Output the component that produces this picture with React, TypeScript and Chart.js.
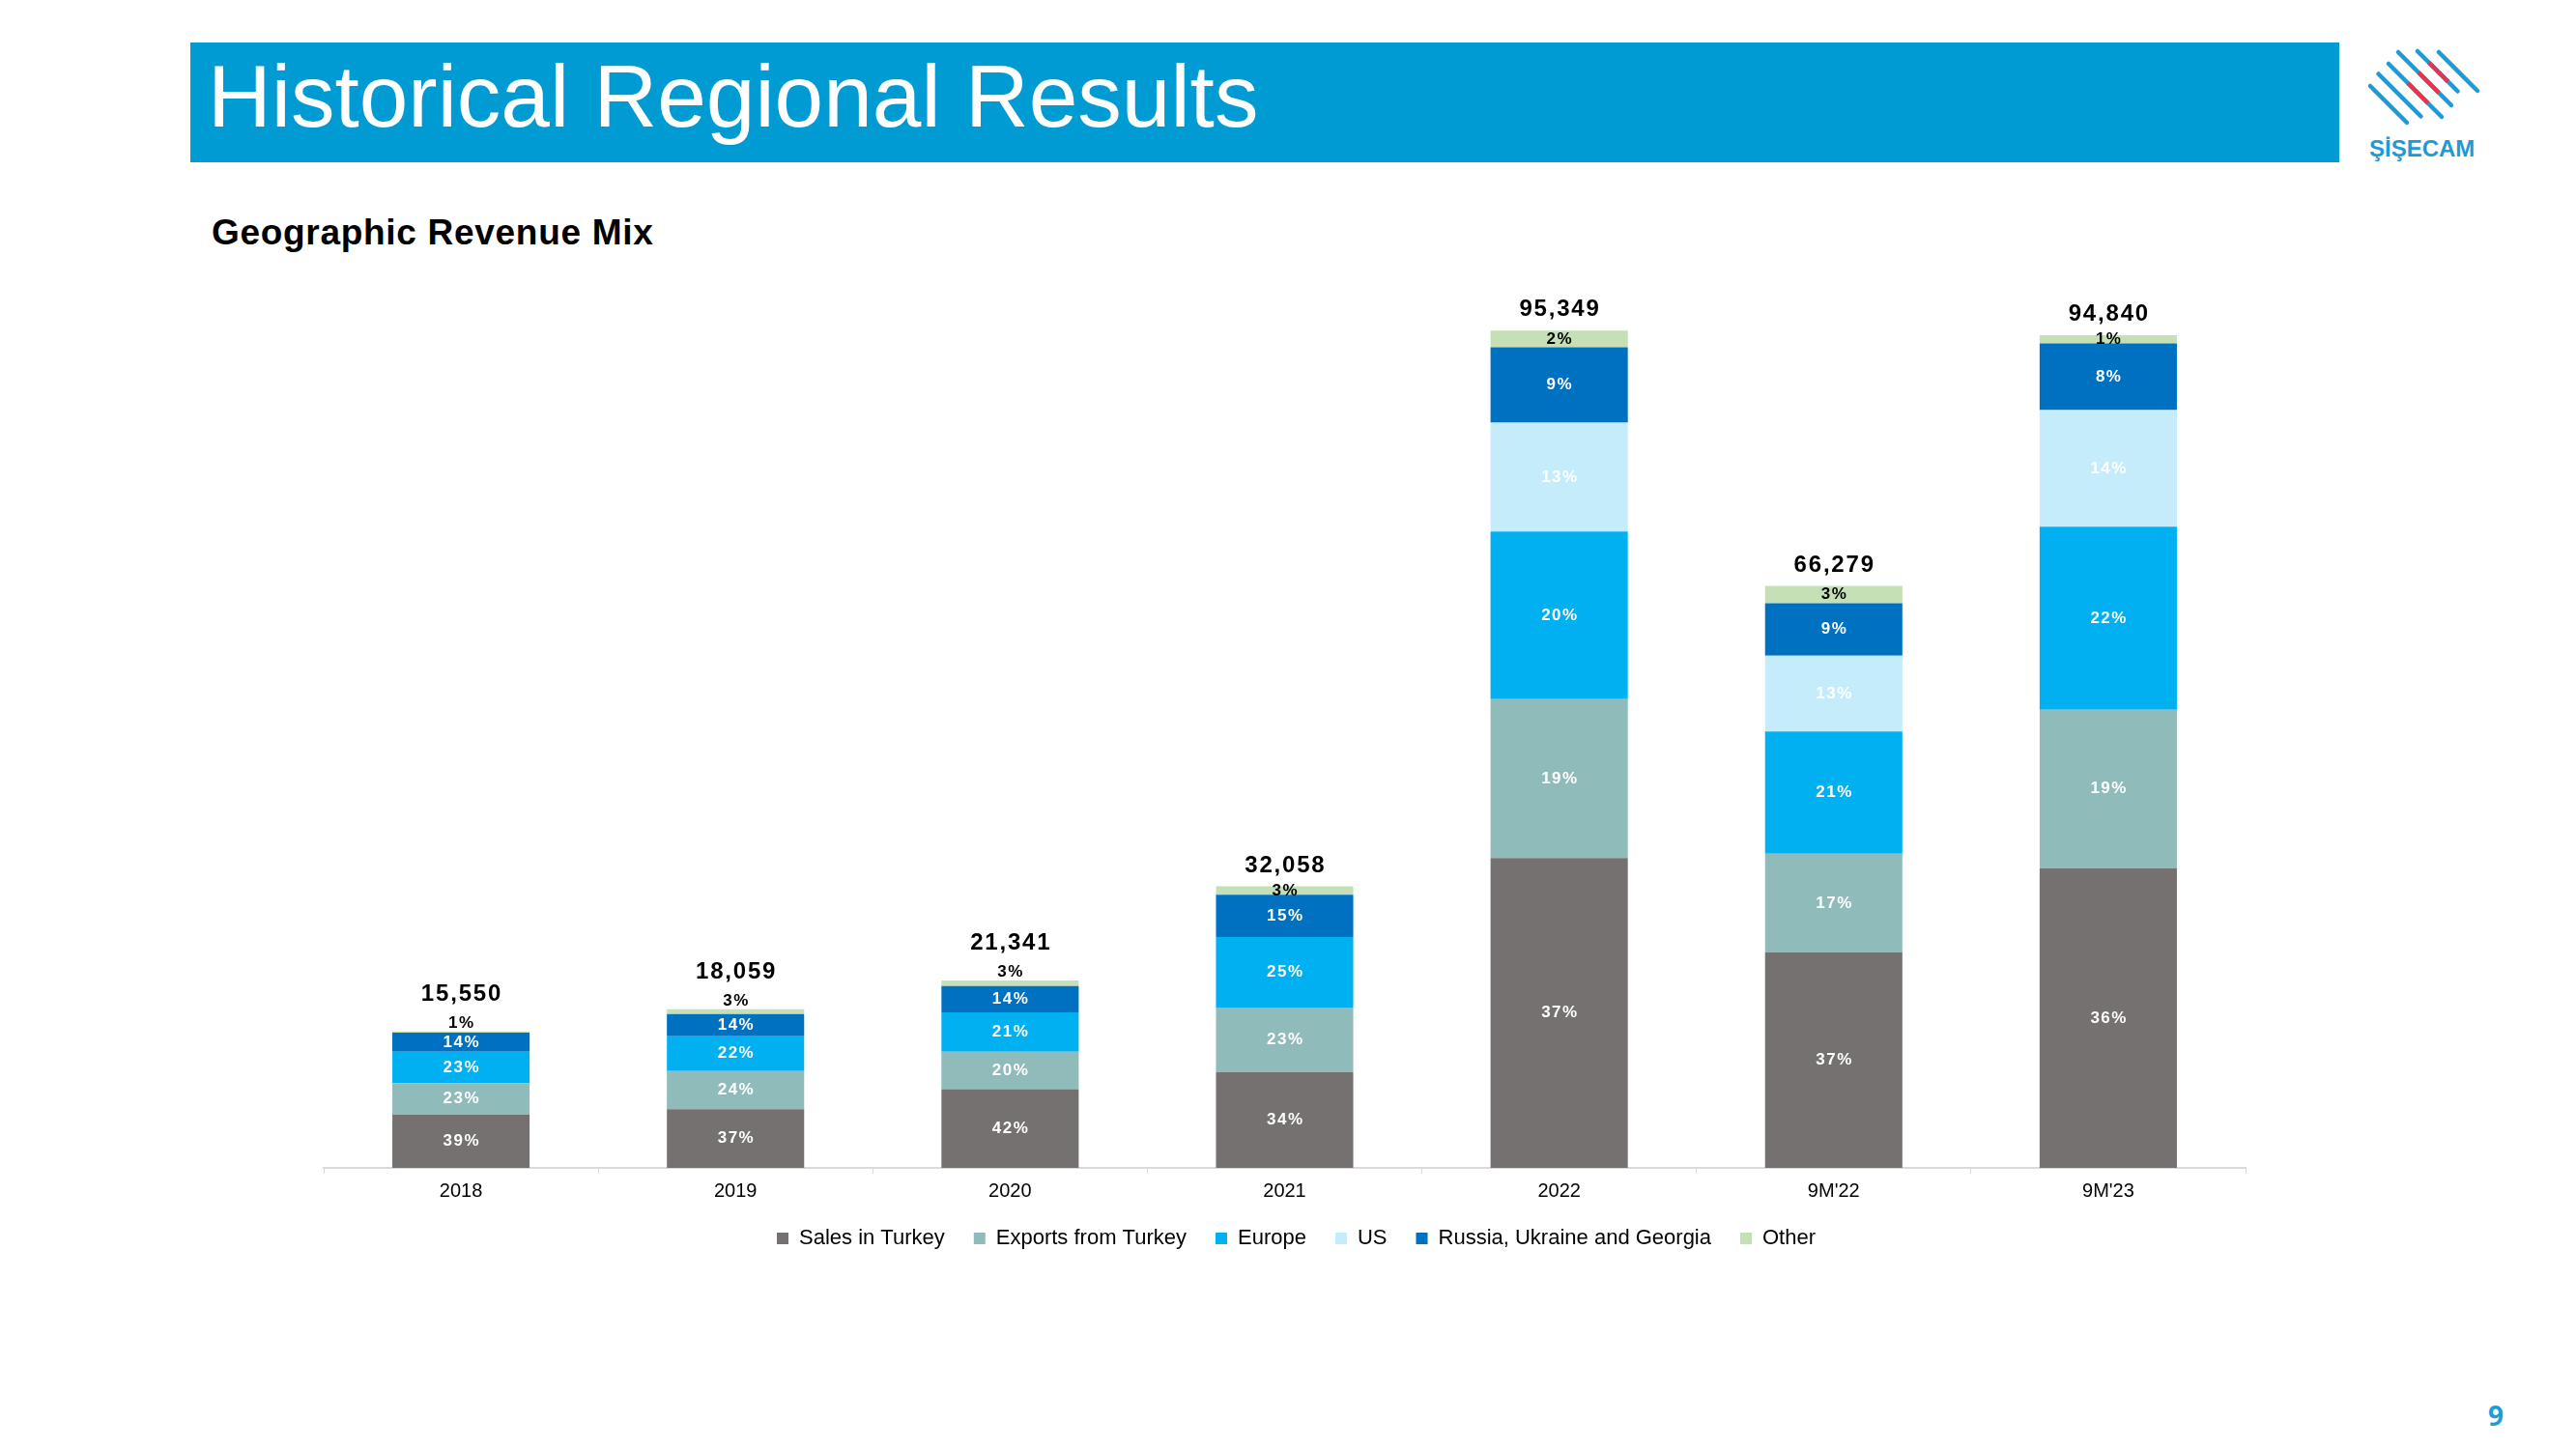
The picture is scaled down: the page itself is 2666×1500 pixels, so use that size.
import React, { useEffect, useRef } from "react";
import { Chart, registerables } from "chart.js";

Chart.register(...registerables);

const FONT = '"Liberation Sans", Arial, sans-serif';

const categories = ["2018", "2019", "2020", "2021", "2022", "9M'22", "9M'23"];
const totals = [15550, 18059, 21341, 32058, 95349, 66279, 94840];
const seriesNames = [
  "Sales in Turkey",
  "Exports from Turkey",
  "Europe",
  "US",
  "Russia, Ukraine and Georgia",
  "Other",
];
const salesTurkeyPct = [39, 37, 42, 34, 37, 37, 36];
const exportsTurkeyPct = [23, 24, 20, 23, 19, 17, 19];
const europePct = [23, 22, 21, 25, 20, 21, 22];
const usPct = [0, 0, 0, 0, 13, 13, 14];
const russiaPct = [14, 14, 14, 15, 9, 9, 8];
const otherPct = [1, 3, 3, 3, 2, 3, 1];
const seriesColors = ["#767171", "#8FBCBB", "#00B0F0", "#C5ECFB", "#0070C0", "#C5E0B4"];

const pctSeries = [salesTurkeyPct, exportsTurkeyPct, europePct, usPct, russiaPct, otherPct];

const shiftLegendPlugin = {
  id: "shiftLegend",
  afterLayout(chart: any) {
    const lg = chart.legend;
    if (lg) {
      lg.left += 12;
      lg.right += 12;
      lg.top -= 10;
      lg.bottom -= 10;
    }
  },
};

const labelPlugin = {
  id: "segmentLabels",
  afterDatasetsDraw(chart: any) {
    const ctx = chart.ctx;
    ctx.save();
    ctx.textAlign = "center";
    for (let j = 0; j < categories.length; j++) {
      for (let i = 0; i < 5; i++) {
        const pct = pctSeries[i][j];
        if (!pct) continue;
        const el = chart.getDatasetMeta(i).data[j];
        ctx.font = `bold 17px ${FONT}`;
        ctx.letterSpacing = "1.5px";
        ctx.fillStyle = "#FFFFFF";
        ctx.textBaseline = "middle";
        ctx.fillText(pct + "%", el.x + 0.75, (el.y + el.base) / 2);
      }
      const oel = chart.getDatasetMeta(5).data[j];
      const h = oel.base - oel.y;
      ctx.font = `bold 17px ${FONT}`;
      ctx.letterSpacing = "1.5px";
      ctx.fillStyle = "#000000";
      let otherTop = oel.y;
      if (h < 7) {
        ctx.textBaseline = "alphabetic";
        const b = oel.y - 4;
        ctx.fillText(otherPct[j] + "%", oel.x + 0.75, b);
        otherTop = b - 13;
      } else {
        ctx.textBaseline = "middle";
        ctx.fillText(otherPct[j] + "%", oel.x + 0.75, (oel.y + oel.base) / 2);
      }
      ctx.font = `bold 24px ${FONT}`;
      ctx.letterSpacing = "1.8px";
      ctx.textBaseline = "alphabetic";
      const tb = Math.min(oel.y, otherTop) - 15;
      ctx.fillText(totals[j].toLocaleString("en-US"), oel.x + 0.9, tb);
    }
    ctx.restore();
  },
};

function Logo() {
  const blue = "#1E9AD6";
  const red = "#E5344B";
  const lines: [number, number, number][] = [
    [-16, 82, 158],
    [5, 78, 166],
    [26, 78, 188],
    [48, 76, 186],
    [69, 95, 178],
    [90, 118, 198],
  ];
  const reds: [number, number, number][] = [
    [26, 118, 160],
    [48, 118, 160],
    [69, 118, 158],
  ];
  const pt = (u: number, s: number) => [(s + u) / 2, (s - u) / 2];
  return (
    <div style={{ position: "absolute", left: 2420, top: 40, width: 180, height: 140 }}>
      <svg width={180} height={140} style={{ position: "absolute", left: 0, top: 0 }}>
        {lines.map(([u, s1, s2], k) => {
          const [x1, y1] = pt(u, s1);
          const [x2, y2] = pt(u, s2);
          return (
            <line key={"b" + k} x1={x1} y1={y1} x2={x2} y2={y2} stroke={blue} strokeWidth={4.5} strokeLinecap="round" />
          );
        })}
        {reds.map(([u, s1, s2], k) => {
          const [x1, y1] = pt(u, s1);
          const [x2, y2] = pt(u, s2);
          return <line key={"r" + k} x1={x1} y1={y1} x2={x2} y2={y2} stroke={red} strokeWidth={4.5} />;
        })}
      </svg>
      <div
        style={{
          position: "absolute",
          left: 32,
          top: 99,
          font: 'bold 24px "Liberation Sans", Arial, sans-serif',
          color: blue,
          lineHeight: "30px",
          whiteSpace: "nowrap",
        }}
      >
        ŞİŞECAM
      </div>
    </div>
  );
}

export default function App() {
  const ref = useRef<HTMLCanvasElement>(null);
  useEffect(() => {
    const chart = new Chart(ref.current as HTMLCanvasElement, {
      type: "bar",
      data: {
        labels: categories,
        datasets: pctSeries.map((p, i) => ({
          label: seriesNames[i],
          data: p.map((v, j) => (totals[j] * v) / 100),
          backgroundColor: seriesColors[i],
          borderWidth: 0,
          barPercentage: 0.5,
          categoryPercentage: 1,
        })),
      },
      options: {
        animation: false,
        responsive: false,
        maintainAspectRatio: false,
        layout: { padding: { left: 35, right: 76, top: 40, bottom: 0 } },
        scales: {
          x: {
            stacked: true,
            grid: {
              display: true,
              drawOnChartArea: false,
              drawTicks: true,
              tickLength: 6,
              color: "#D9D9D9",
              offset: true,
            },
            border: { display: true, color: "#D9D9D9", width: 2 },
            ticks: { color: "#000000", font: { family: FONT, size: 20 }, padding: 6 },
          },
          y: { stacked: true, display: false, min: 0, max: 100000 },
        },
        plugins: {
          legend: {
            position: "bottom",
            labels: {
              boxWidth: 12,
              boxHeight: 12,
              color: "#000000",
              font: { family: FONT, size: 22 },
              padding: 30,
            },
          },
          tooltip: { enabled: false },
        },
      } as any,
      plugins: [shiftLegendPlugin, labelPlugin],
    });
    return () => chart.destroy();
  }, []);

  return (
    <div
      style={{
        position: "fixed",
        left: 0,
        top: 0,
        width: 2666,
        height: 1500,
        background: "#FFFFFF",
        overflow: "hidden",
      }}
    >
      <div
        style={{
          position: "absolute",
          left: 197,
          top: 44,
          width: 2224,
          height: 124,
          background: "#009BD2",
        }}
      />
      <div
        style={{
          position: "absolute",
          left: 215,
          top: 54,
          font: `91px ${FONT}`,
          lineHeight: "91px",
          color: "#FFFFFF",
          whiteSpace: "nowrap",
        }}
      >
        Historical Regional Results
      </div>
      <Logo />
      <div
        style={{
          position: "absolute",
          left: 219,
          top: 222,
          font: `bold 37px ${FONT}`,
          lineHeight: "37px",
          letterSpacing: "0.7px",
          color: "#000000",
          whiteSpace: "nowrap",
        }}
      >
        Geographic Revenue Mix
      </div>
      <canvas
        ref={ref}
        width={2100}
        height={1053}
        style={{ position: "absolute", left: 300, top: 260, width: 2100, height: 1053 }}
      />
      <div
        style={{
          position: "absolute",
          left: 2575,
          top: 1446,
          font: 'bold 28px "Open Sans", "Liberation Sans", sans-serif',
          lineHeight: "38px",
          color: "#1A9ED6",
        }}
      >
        9
      </div>
    </div>
  );
}
